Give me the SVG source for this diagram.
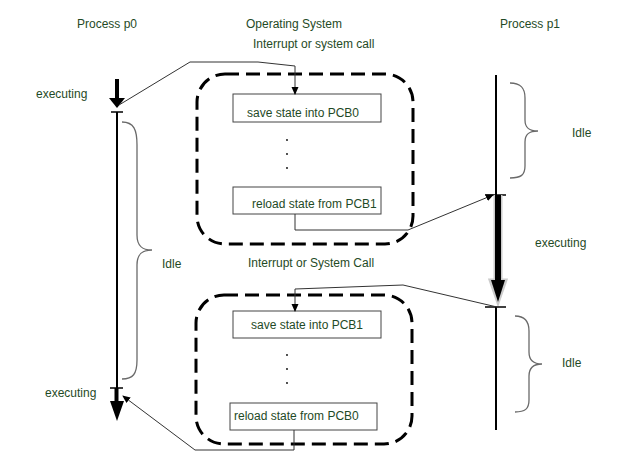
<svg xmlns="http://www.w3.org/2000/svg" width="628" height="470" viewBox="0 0 628 470">
<defs>
<style>
text{font-family:"Liberation Sans",Arial,sans-serif;font-size:12px;fill:#1f4a26}
.os{fill:none;stroke:#000;stroke-width:3;stroke-dasharray:14 7}
.box{fill:#fff;stroke:#444;stroke-width:1}
.conn{fill:none;stroke:#333;stroke-width:1}
.brace{fill:none;stroke:#6a6a6a;stroke-width:1.3}
.axis{stroke:#000;stroke-width:2}
.tick{stroke:#000;stroke-width:1.5}
</style>
<marker id="ah" markerWidth="8" markerHeight="8" refX="7" refY="4" orient="auto" markerUnits="userSpaceOnUse">
<path d="M0,0.5 L8,4 L0,7.5 Z" fill="#000"/>
</marker>
</defs>
<rect width="628" height="470" fill="#fff"/>

<g id="headers">
<text x="77" y="28">Process p0</text>
<text x="246" y="28">Operating System</text>
<text x="500" y="28">Process p1</text>
<text x="253" y="48">Interrupt or system call</text>
<text x="248" y="267">Interrupt or System Call</text>
</g>

<g id="process-p0">
<line x1="117" y1="79" x2="117" y2="100" stroke="#000" stroke-width="4"/>
<path d="M109,98 L125,98 L117,108 Z" fill="#000"/>
<line class="tick" x1="111" y1="112" x2="123" y2="112"/>
<line class="axis" x1="117" y1="112" x2="117" y2="388"/>
<line class="tick" x1="110" y1="388" x2="123" y2="388"/>
<line x1="116.5" y1="388" x2="116.5" y2="404" stroke="#000" stroke-width="4"/>
<path d="M110,401 L124,401 L117,421 Z" fill="#000"/>
<path class="brace" d="M122,122 C134,122 137,130 137,145 L137,235 C137,246 142,250 152,250 C142,250 137,254 137,265 L137,360 C137,374 133,379 122,379"/>
<text x="36" y="98">executing</text>
<text x="162" y="268">Idle</text>
<text x="45" y="397">executing</text>
</g>

<g id="process-p1">
<line class="axis" x1="496" y1="75" x2="496" y2="195"/>
<line class="tick" x1="485" y1="195" x2="506" y2="195"/>
<path d="M495,195 L495,280 L490,280 L498,303 L506,280 L501,280 L501,195" fill="none" stroke="#ccc" stroke-width="3"/>
<line x1="498" y1="195" x2="498" y2="282" stroke="#000" stroke-width="6"/>
<path d="M491,280 L505,280 L498,302 Z" fill="#000"/>
<line class="tick" x1="485" y1="307" x2="506" y2="307"/>
<line class="axis" x1="496" y1="307" x2="496" y2="430"/>
<path class="brace" d="M510,83 C521,83 525,88 525,98 L525,120 C525,128 529,131 538,131 C529,131 525,134 525,142 L525,166 C525,175 521,178 510,178"/>
<path class="brace" d="M515,316 C525,316 529,321 529,331 L529,352 C529,360 533,364 542,364 C533,364 529,368 529,376 L529,400 C529,409 525,412 515,412"/>
<text x="572" y="137">Idle</text>
<text x="535" y="247">executing</text>
<text x="562" y="367">Idle</text>
</g>

<g id="os-top">
<rect class="os" x="197" y="74" width="216" height="170" rx="28" ry="28"/>
<rect class="box" x="233" y="94" width="148" height="28"/>
<text x="303" y="117" text-anchor="middle">save state into PCB0</text>
<circle cx="287" cy="140" r="0.9" fill="#000"/>
<circle cx="287" cy="154" r="0.9" fill="#000"/>
<circle cx="287" cy="168" r="0.9" fill="#000"/>
<rect class="box" x="233" y="187" width="148" height="27"/>
<text x="252" y="208">reload state from PCB1</text>
</g>

<g id="os-bottom">
<rect class="os" x="196" y="295" width="216" height="149" rx="28" ry="28"/>
<rect class="box" x="233" y="311" width="148" height="27"/>
<text x="307" y="329" text-anchor="middle">save state into PCB1</text>
<circle cx="287" cy="355" r="0.9" fill="#000"/>
<circle cx="287" cy="369" r="0.9" fill="#000"/>
<circle cx="287" cy="383" r="0.9" fill="#000"/>
<rect class="box" x="230" y="403" width="147" height="27"/>
<text x="234" y="420">reload state from PCB0</text>
</g>

<g id="connectors">
<path class="conn" marker-end="url(#ah)" d="M119,105 L190,62 L258,62 L295,66 L295,94"/>
<path class="conn" marker-end="url(#ah)" d="M295,214 L295,230 L408,230 L493,195"/>
<path class="conn" marker-end="url(#ah)" d="M497,307 L403,285 L295,289 L295,311"/>
<path class="conn" marker-end="url(#ah)" d="M294,430 L294,450 L195,450 L123,396"/>
</g>
</svg>
